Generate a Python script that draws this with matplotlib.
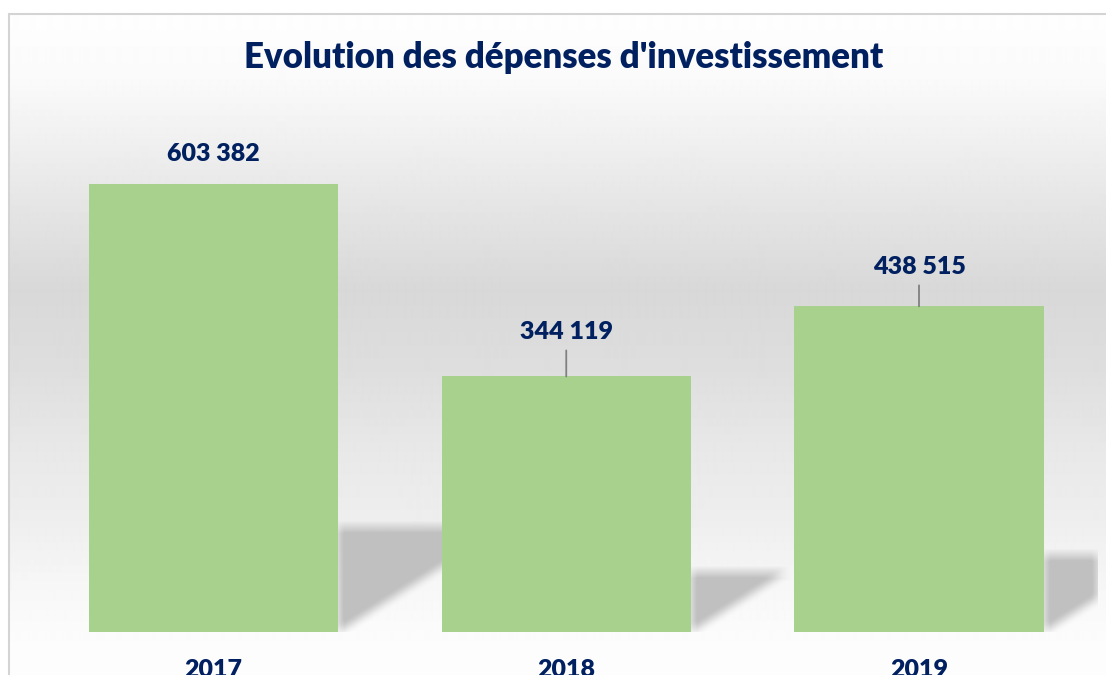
import numpy as np
import matplotlib
matplotlib.use("Agg")
import matplotlib.pyplot as plt
from matplotlib.patches import Rectangle

# ---- data ----
years = ["2017", "2018", "2019"]
values = [603382, 344119, 438515]
value_labels = ["603 382", "344 119", "438 515"]
title = "Evolution des dépenses d'investissement"

# ---- style ----
W, H = 1106, 675
DPI = 100
navy = "#002060"
bar_color = "#a9d18e"
font = "Lato"
weight = "heavy"
label_offsets_px = [30, 44, 39]
show_leader = [False, True, True]

plt.rcParams["font.family"] = [font, "DejaVu Sans"]

fig = plt.figure(figsize=(W / DPI, H / DPI), dpi=DPI)
fig.patch.set_facecolor("white")

# background gradient (chart area)
bx0, by_top = 9, 14
bg = fig.add_axes([bx0 / W, 0, (W - bx0) / W, (H - by_top) / H])
bg.set_axis_off()
ys = np.arange(by_top, H)
prof_y = [14, 80, 200, 290, 370, 450, 520, 580, 640, 675]
prof_v = [254, 250, 230, 216, 222, 232, 238, 246, 252, 253]
col = np.interp(ys, prof_y, prof_v) / 255.0
grad = np.repeat(col[:, None], 2, axis=1)
bg.imshow(grad, cmap="gray", vmin=0, vmax=1, aspect="auto",
          extent=(0, 1, 0, 1), origin="upper", interpolation="bilinear")
bg.set_xlim(0, 1)
bg.set_ylim(0, 1)

# frame
fig.patches.append(Rectangle((bx0 / W, -0.01), (W - bx0 + 5) / W, (H - by_top) / H + 0.01,
                             transform=fig.transFigure, fill=False,
                             edgecolor="#d4d4d4", linewidth=1.5, zorder=5))

# main axes
ax_left, ax_right = 9, 1098
ax_bottom, ax_top = 632, 100
ax = fig.add_axes([ax_left / W, (H - ax_bottom) / H,
                   (ax_right - ax_left) / W, (ax_bottom - ax_top) / H])
ax.patch.set_alpha(0)
for s in ax.spines.values():
    s.set_visible(False)

x = np.arange(len(years))
width = 0.706
ymax = values[0] * (ax_bottom - ax_top) / (ax_bottom - 184)
xmin, xmax = (ax_left - 213.5) / 352.75, (ax_right - 213.5) / 352.75
ax.set_xlim(xmin, xmax)
ax.set_ylim(0, ymax)

bars = ax.bar(x, values, width=width, color=bar_color, zorder=3)

# soft cast shadows (derived from bar geometry)
nx, ny = ax_right - ax_left, ax_bottom - ax_top
px_per_x = nx / (xmax - xmin)
px_per_y = ny / ymax
X, Y = np.meshgrid(np.arange(nx) + 0.5, np.arange(ny) + 0.5)
mask = np.zeros((ny, nx))
for xi, v in zip(x, values):
    R = (xi + width / 2 - xmin) * px_per_x
    s = 0.235 * v * px_per_y
    m = (X >= R) & (Y <= s) & (Y >= 0.63 * (X - R))
    mask = np.maximum(mask, m.astype(float))
k = np.ones(13) / 13.0
blur = np.apply_along_axis(lambda r: np.convolve(r, k, mode="same"), 1, mask)
blur = np.apply_along_axis(lambda c: np.convolve(c, k, mode="same"), 0, blur)
rgba = np.zeros((ny, nx, 4))
rgba[..., :3] = 0.755
rgba[..., 3] = np.clip(blur * 1.05, 0, 1)
ax.imshow(rgba, extent=(xmin, xmax, 0, ymax), origin="lower", aspect="auto",
          interpolation="bilinear", zorder=2)
ax.set_xlim(xmin, xmax)
ax.set_ylim(0, ymax)

# value labels
for xi, v, lab, off, lead in zip(x, values, value_labels, label_offsets_px, show_leader):
    kw = {}
    if lead:
        kw["arrowprops"] = dict(arrowstyle="-", color="#808080", lw=1.3,
                                shrinkA=3, shrinkB=0)
    ax.annotate(lab, xy=(xi, v), xytext=(0, off * 72 / DPI), textcoords="offset points",
                ha="center", va="center", fontsize=18, fontweight=weight,
                color=navy, zorder=6, **kw)

ax.set_xticks(x)
ax.set_xticklabels(years, fontsize=18, fontweight=weight, color=navy)
ax.tick_params(axis="x", length=0, pad=27 * 72 / DPI)
ax.set_yticks([])

fig.text(564 / W, 1 - 57 / H, title, ha="center", va="center",
         fontsize=25, fontweight=weight, color=navy)

fig.savefig("out.png", dpi=DPI)
